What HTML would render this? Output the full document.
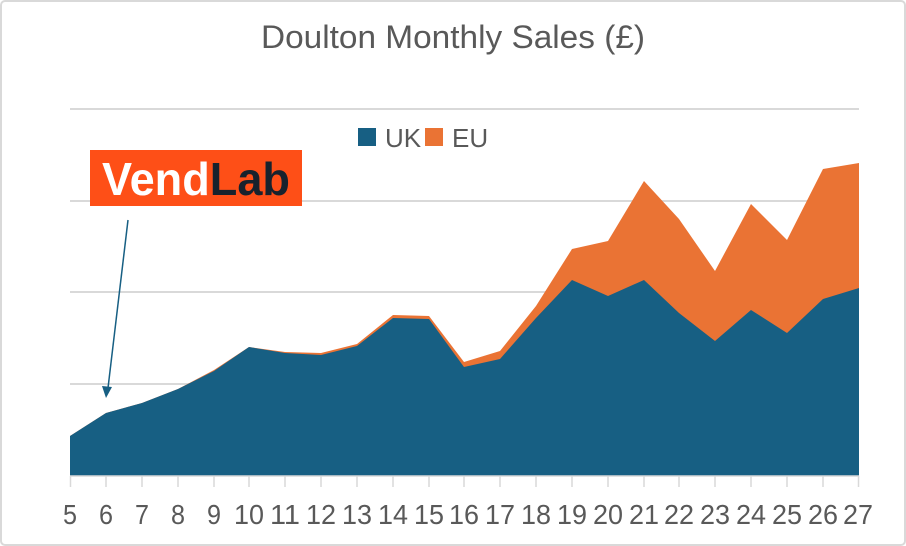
<!DOCTYPE html>
<html><head><meta charset="utf-8"><style>
html,body{margin:0;padding:0;background:#fff;}
svg{display:block;font-family:"Liberation Sans",sans-serif;}
</style></head><body>
<svg width="906" height="546" viewBox="0 0 906 546">
<rect x="1" y="1" width="904" height="544" rx="4" fill="#fff" stroke="#d9d9d9" stroke-width="2"/>
<text x="453" y="48" text-anchor="middle" font-size="32" fill="#595959" textLength="384" lengthAdjust="spacingAndGlyphs">Doulton Monthly Sales (£)</text>
<g stroke="#d9d9d9" stroke-width="2">
<line x1="70" y1="109" x2="859" y2="109"/>
<line x1="70" y1="201" x2="859" y2="201"/>
<line x1="70" y1="292" x2="859" y2="292"/>
<line x1="70" y1="384" x2="859" y2="384"/>
</g>
<polygon fill="#ea7334" points="70,476 70,436 106,413 142,403 178,389 214,370 249,347 285,352 321,353 357,344 393,315 429,316 464,362 500,351 536,306 572,249 608,241 644,181 679,219 715,271 751,204 787,240 823,169 859,163 859,476"/>
<polygon fill="#175f83" points="70,476 70,436 106,413 142,403 178,389 214,371 249,347 285,353 321,355 357,346 393,318 429,319 464,367 500,359 536,318 572,280 608,296 644,280 679,313 715,341 751,310 787,333 823,299 859,288 859,476"/>
<g stroke="#d9d9d9" stroke-width="1.5">
<line x1="70" y1="476" x2="859" y2="476"/>
<line x1="70.5" y1="476" x2="70.5" y2="487"/><line x1="106" y1="476" x2="106" y2="487"/><line x1="142" y1="476" x2="142" y2="487"/><line x1="178" y1="476" x2="178" y2="487"/><line x1="214" y1="476" x2="214" y2="487"/><line x1="249" y1="476" x2="249" y2="487"/><line x1="285" y1="476" x2="285" y2="487"/><line x1="321" y1="476" x2="321" y2="487"/><line x1="357" y1="476" x2="357" y2="487"/><line x1="393" y1="476" x2="393" y2="487"/><line x1="429" y1="476" x2="429" y2="487"/><line x1="464" y1="476" x2="464" y2="487"/><line x1="500" y1="476" x2="500" y2="487"/><line x1="536" y1="476" x2="536" y2="487"/><line x1="572" y1="476" x2="572" y2="487"/><line x1="608" y1="476" x2="608" y2="487"/><line x1="644" y1="476" x2="644" y2="487"/><line x1="679" y1="476" x2="679" y2="487"/><line x1="715" y1="476" x2="715" y2="487"/><line x1="751" y1="476" x2="751" y2="487"/><line x1="787" y1="476" x2="787" y2="487"/><line x1="823" y1="476" x2="823" y2="487"/><line x1="858.5" y1="476" x2="858.5" y2="487"/>
</g>
<g font-size="28" fill="#595959" text-anchor="middle">
<text x="70" y="524" textLength="14" lengthAdjust="spacingAndGlyphs">5</text><text x="106" y="524" textLength="14" lengthAdjust="spacingAndGlyphs">6</text><text x="142" y="524" textLength="14" lengthAdjust="spacingAndGlyphs">7</text><text x="178" y="524" textLength="14" lengthAdjust="spacingAndGlyphs">8</text><text x="214" y="524" textLength="14" lengthAdjust="spacingAndGlyphs">9</text>
<text x="249" y="524" textLength="30" lengthAdjust="spacingAndGlyphs">10</text><text x="285" y="524" textLength="30" lengthAdjust="spacingAndGlyphs">11</text><text x="321" y="524" textLength="30" lengthAdjust="spacingAndGlyphs">12</text><text x="357" y="524" textLength="30" lengthAdjust="spacingAndGlyphs">13</text><text x="393" y="524" textLength="30" lengthAdjust="spacingAndGlyphs">14</text><text x="429" y="524" textLength="30" lengthAdjust="spacingAndGlyphs">15</text><text x="464" y="524" textLength="30" lengthAdjust="spacingAndGlyphs">16</text><text x="500" y="524" textLength="30" lengthAdjust="spacingAndGlyphs">17</text><text x="536" y="524" textLength="30" lengthAdjust="spacingAndGlyphs">18</text><text x="572" y="524" textLength="30" lengthAdjust="spacingAndGlyphs">19</text><text x="608" y="524" textLength="30" lengthAdjust="spacingAndGlyphs">20</text><text x="644" y="524" textLength="30" lengthAdjust="spacingAndGlyphs">21</text><text x="679" y="524" textLength="30" lengthAdjust="spacingAndGlyphs">22</text><text x="715" y="524" textLength="30" lengthAdjust="spacingAndGlyphs">23</text><text x="751" y="524" textLength="30" lengthAdjust="spacingAndGlyphs">24</text><text x="787" y="524" textLength="30" lengthAdjust="spacingAndGlyphs">25</text><text x="823" y="524" textLength="30" lengthAdjust="spacingAndGlyphs">26</text><text x="858" y="524" textLength="30" lengthAdjust="spacingAndGlyphs">27</text>
</g>
<rect x="358" y="128" width="18" height="18" fill="#175f83"/>
<text x="385" y="147" font-size="26" fill="#595959">UK</text>
<rect x="425" y="128" width="18" height="18" fill="#ea7334"/>
<text x="452" y="147" font-size="26" fill="#595959">EU</text>
<rect x="90" y="150" width="212" height="56" fill="#fe4f17"/>
<text x="102" y="195" font-size="46" font-weight="bold" textLength="188" lengthAdjust="spacingAndGlyphs"><tspan fill="#fff">Vend</tspan><tspan fill="#17222d">Lab</tspan></text>
<line x1="128" y1="220" x2="108" y2="388" stroke="#175f83" stroke-width="1.5"/>
<polygon points="106,398 102,386 112,387" fill="#175f83"/>
</svg>
</body></html>
